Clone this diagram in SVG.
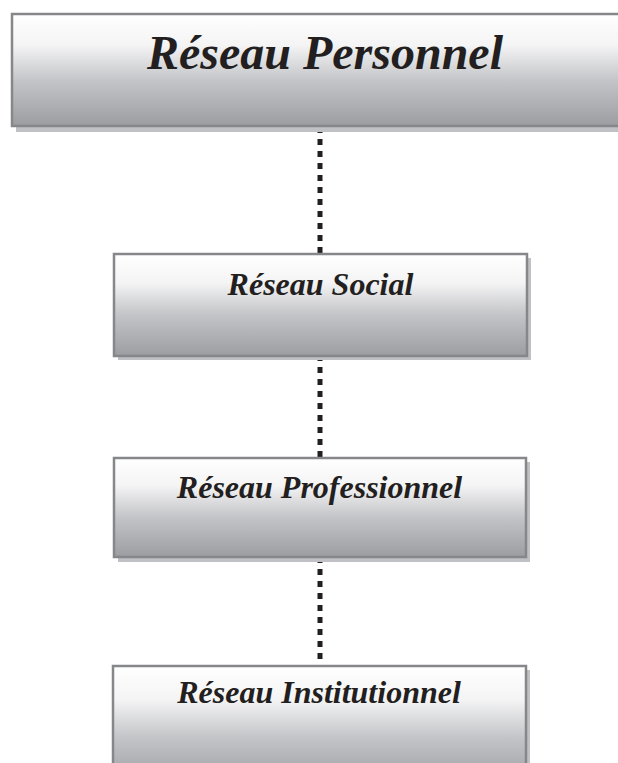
<svg xmlns="http://www.w3.org/2000/svg" width="618" height="763" viewBox="0 0 618 763">
<defs>
<linearGradient id="g" x1="0" y1="0" x2="0" y2="1">
<stop offset="0" stop-color="#ffffff"/>
<stop offset="0.28" stop-color="#f4f4f5"/>
<stop offset="0.6" stop-color="#c3c4c7"/>
<stop offset="1" stop-color="#9c9da1"/>
</linearGradient>
</defs>
<style>
.sh{fill:#c0c1c4}
.bx{fill:url(#g);stroke:#86878b;stroke-width:2.5}
.t{font-family:"Liberation Serif","Times New Roman",serif;font-weight:bold;font-style:italic;fill:#231f20;text-anchor:middle}
.c{stroke:#231f20;stroke-width:5;stroke-dasharray:6 6;fill:none}
</style>
<rect width="618" height="763" fill="#ffffff"/>
<g id="connectors">
<line class="c" x1="320" y1="127" x2="320" y2="253"/>
<line class="c" x1="320" y1="355" x2="320" y2="457"/>
<line class="c" x1="320" y1="557" x2="320" y2="665"/>
</g>
<g id="node-personnel">
<rect class="sh" x="16" y="18" width="620" height="114"/>
<rect class="bx" x="12" y="14" width="620" height="112"/>
<text class="t" x="325" y="69" font-size="48">Réseau Personnel</text>
</g>
<g id="node-social">
<rect class="sh" x="118" y="258" width="413" height="102"/>
<rect class="bx" x="114" y="254" width="413" height="102"/>
<text class="t" x="320.5" y="295" font-size="32">Réseau Social</text>
</g>
<g id="node-professionnel">
<rect class="sh" x="118" y="462" width="412" height="100"/>
<rect class="bx" x="114" y="458" width="412" height="99"/>
<text class="t" x="319.5" y="498" font-size="32">Réseau Professionnel</text>
</g>
<g id="node-institutionnel">
<rect class="sh" x="117" y="670" width="413" height="120"/>
<rect class="bx" x="113" y="666" width="413" height="120"/>
<text class="t" x="319" y="703" font-size="32">Réseau Institutionnel</text>
</g>
</svg>
